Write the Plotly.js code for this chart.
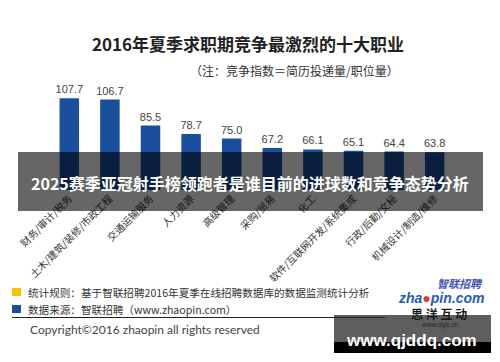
<!DOCTYPE html>
<html><head><meta charset="utf-8">
<script src="https://cdn.plot.ly/plotly-3.0.1.min.js"></script>
<style>html,body{margin:0;padding:0;background:#fff;}#chart{width:500px;height:362px;}</style>
</head><body><div id="chart"></div>
<script>
const categories = ["财务/审计/税务","土木/建筑/装修/市政工程","交通运输服务","人力资源","高级管理","采购/贸易","化工","软件/互联网开发/系统集成","行政/后勤/文秘","机械设计/制造/维修"];
const values = [107.7, 106.7, 85.5, 78.7, 75.0, 67.2, 66.1, 65.1, 64.4, 63.8];
const valueLabels = ["107.7","106.7","85.5","78.7","75.0","67.2","66.1","65.1","64.4","63.8"];

const titleText = "2016年夏季求职期竞争最激烈的十大职业";
const subtitleText = "（注：竞争指数＝简历投递量/职位量）";
const bannerText = "2025赛季亚冠射手榜领跑者是谁目前的进球数和竞争态势分析";
const footer1 = "统计规则：基于智联招聘2016年夏季在线招聘数据库的数据监测统计分析";
const footer2 = "数据来源：智联招聘（www.zhaopin.com）";
const copyright = "Copyright©2016 zhaopin all rights reserved";

const CJK = "'Noto Sans CJK SC', 'Noto Sans', sans-serif";
const L = 49, R = 45, T = 70, B = 172, WW = 500, HH = 362;
const PW = WW - L - R, PH = HH - T - B;
const px = p => (p - L) / PW;
const py = p => 1 - (p - T) / PH;

const trace = {
  type: 'bar', x: categories, y: values,
  text: valueLabels, textposition: 'outside', cliponaxis: false, constraintext: 'none',
  textfont: {family: "'Liberation Sans', Arial, sans-serif", size: 11, color: '#444'},
  marker: {color: '#1a4f9e', line: {width: 0}},
  hoverinfo: 'skip'
};

const shapes = [
  {type:'rect', xref:'paper', yref:'paper', x0:px(12), x1:px(21), y0:py(296), y1:py(288), fillcolor:'#f5c400', line:{width:0}, layer:'above'},
  {type:'rect', xref:'paper', yref:'paper', x0:px(12), x1:px(21), y0:py(313), y1:py(305), fillcolor:'#1a4f9c', line:{width:0}, layer:'above'},
  {type:'line', xref:'paper', yref:'paper', x0:px(12), x1:px(385), y0:py(317.5), y1:py(317.5), line:{color:'#222', width:1}, layer:'above'},
  {type:'rect', xref:'paper', yref:'paper', x0:px(18), x1:px(483), y0:py(211), y1:py(152), fillcolor:'rgba(0,0,0,0.6)', line:{width:0}, layer:'above'},
  {type:'rect', xref:'paper', yref:'paper', x0:px(334), x1:px(491), y0:py(342), y1:py(315), fillcolor:'rgba(40,40,40,0.75)', line:{width:0}, layer:'above'},
  {type:'rect', xref:'paper', yref:'paper', x0:px(334), x1:px(491), y0:py(353), y1:py(342), fillcolor:'#000', line:{width:0}, layer:'above'}
];

function ann(text, x, y, opts) {
  return Object.assign({text: text, xref:'paper', yref:'paper', x: px(x), y: py(y), showarrow:false,
    xanchor:'left', yanchor:'middle', borderpad: 0}, opts);
}

const annotations = [
  ann(subtitleText, 400, 70, {xanchor:'right', font:{family:CJK, size:12, color:'#333'}}),
  ann(bannerText, 250, 183, {xanchor:'center', font:{family:CJK, size:16, color:'#fff', weight:'bold'}}),
  ann(footer1, 27, 292, {font:{family:CJK, size:10.6, color:'#333'}}),
  ann(footer2, 27, 309, {font:{family:CJK, size:10.6, color:'#333'}}),
  ann(copyright, 29, 329, {font:{family:"Lato, 'Liberation Sans', sans-serif", size:12, color:'#444'}}),
  ann("智联招聘", 484, 283, {xanchor:'right', font:{family:CJK, size:11, color:'#3e55b5', weight:'bold', style:'italic'}}),
  ann("zha<span style='color:#e0402a'>●</span>pin.com", 485, 298, {xanchor:'right', font:{family:"'Liberation Sans', Arial, sans-serif", size:14, color:'#2a5cb6', weight:'bold', style:'italic'}}),
  ann("思 洋 互 动", 439, 313, {xanchor:'center', font:{family:"'Noto Sans CJK SC', serif", size:12, color:'#1a1a1a', weight:'bold'}}),
  ann("www.ciya.cn", 439, 324.5, {xanchor:'center', font:{family:"'Liberation Sans', Arial, sans-serif", size:6.5, color:'#222'}}),
  ann("www.qjddq.com", 411, 340, {xanchor:'center', font:{family:"'Liberation Sans', Arial, sans-serif", size:17, color:'#fff', weight:'bold'}})
];

const layout = {
  width: WW, height: HH,
  margin: {l: L, r: R, t: T, b: B, pad: 0},
  paper_bgcolor: '#fff', plot_bgcolor: '#fff',
  title: {text: titleText, x: 0.496, xanchor: 'center', y: 1 - 45/HH, yanchor: 'middle', yref: 'container',
    font: {family: CJK, size: 17, color: '#222', weight: 'bold'}},
  bargap: 0.52,
  showlegend: false,
  xaxis: {type: 'category', tickangle: -45, showline: false, showgrid: false, zeroline: false,
    ticks: '', tickfont: {family: CJK, size: 10, color: '#333'}, automargin: false, fixedrange: true},
  yaxis: {range: [33.15, 130.7], visible: false, showgrid: false, zeroline: false, fixedrange: true},
  shapes: shapes,
  annotations: annotations
};

Plotly.newPlot('chart', [trace], layout, {displayModeBar: false, staticPlot: true});
</script>
</body></html>
